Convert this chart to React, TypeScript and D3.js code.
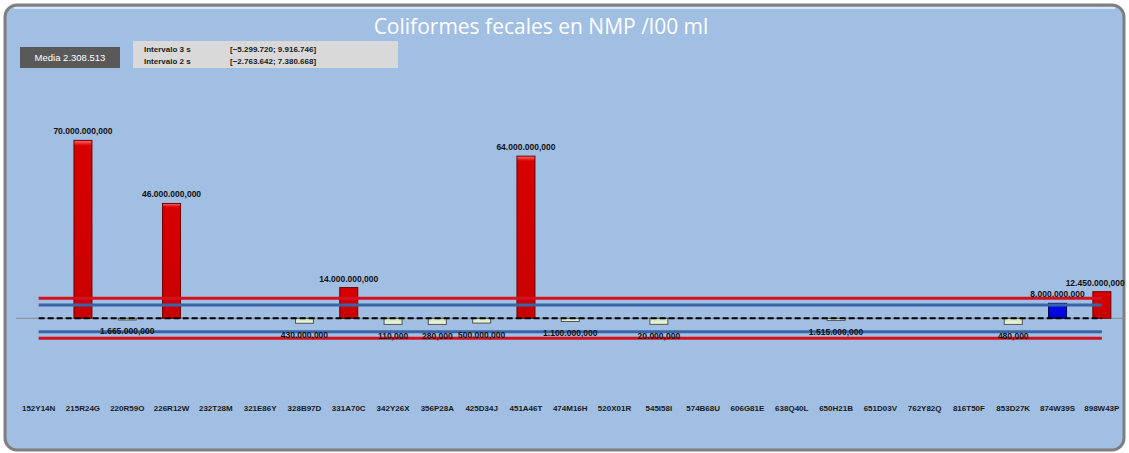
import React from "react";
import * as d3 from "d3";

const categories = [
  "152Y14N", "215R24G", "220R59O", "226R12W", "232T28M", "321E86Y", "328B97D",
  "331A70C", "342Y26X", "356P28A", "425D34J", "451A46T", "474M16H", "520X01R",
  "545I58I", "574B68U", "606G81E", "638Q40L", "650H21B", "651D03V", "762Y82Q",
  "816T50F", "853D27K", "874W39S", "898W43P",
];
const values: (number | null)[] = [
  null, 70000000, 1665000, 46000000, null, null, 430000,
  14000000, 110, 280, 500000, 64000000, 1100000, null,
  20000, null, null, null, 1515000, null, null,
  null, 480, 8000000, 12450000,
];
const mean = 2308513;
const interval3 = [-5299720, 9916746];
const interval2 = [-2763642, 7380668];
const title = "Coliformes fecales en NMP /l00 ml";

const W = 1129;
const H = 453;

const es = d3.formatLocale({ decimal: ",", thousands: ".", grouping: [3], currency: ["", "€"] });
const fmt3 = es.format(",.3f");
const fmt0 = es.format(",.0f");

export default function App() {
  const x = d3
    .scaleBand<string>()
    .domain(categories)
    .range([16.5, 1124])
    .paddingInner(0.594)
    .paddingOuter(0.297);
  const y = d3.scaleLinear().domain([0, 70000000]).range([324.37, 140.37]);
  const cx = (c: string) => (x(c) as number) + x.bandwidth() / 2;
  const x0 = cx(categories[0]);
  const x1 = cx(categories[categories.length - 1]);
  const yMean = y(mean);

  const colorOf = (v: number) => (v > interval3[1] ? "red" : v > interval2[1] ? "blue" : "green");

  return (
    <svg width={W} height={H} style={{ position: "absolute", left: 0, top: 0 }} fontFamily="Liberation Sans, Arial, sans-serif">
      <defs>
        <linearGradient id="gRed" x1="0" y1="0" x2="0" y2="1">
          <stop offset="0" stopColor="#ff6a6a" />
          <stop offset="0.03" stopColor="#d80000" />
          <stop offset="1" stopColor="#c80000" />
        </linearGradient>
        <linearGradient id="gBlue" x1="0" y1="0" x2="0" y2="1">
          <stop offset="0" stopColor="#6a6aff" />
          <stop offset="0.1" stopColor="#0010f0" />
          <stop offset="1" stopColor="#0000d0" />
        </linearGradient>
        <linearGradient id="gGreen" x1="0" y1="0" x2="0" y2="1">
          <stop offset="0" stopColor="#c8e2b0" />
          <stop offset="1" stopColor="#f4fbec" />
        </linearGradient>
      </defs>
      <rect x={0} y={0} width={W} height={H} fill="#ffffff" />
      <rect x={5} y={5} width={1119} height={445} rx={12} fill="#a1bee3" stroke="#7f7f7f" strokeWidth={3} />
      <line x1={14} x2={1115} y1={8} y2={8} stroke="#d8e7f8" strokeWidth={2} />

      <text x={541} y={34} textAnchor="middle" fill="#ffffff" fontSize={21} fontFamily="Open Sans, sans-serif" fontWeight={500}>
        {title}
      </text>

      <rect x={20} y={47} width={100} height={21} fill="#595959" />
      <text x={70} y={61} textAnchor="middle" fill="#ffffff" fontSize={9.5}>
        {`Media ${fmt0(mean)}`}
      </text>
      <rect x={133} y={41} width={265} height={27} fill="#d9d9d9" />
      <text x={144} y={51.5} fontSize={8} fontWeight="bold" fill="#1a1a1a">Intervalo 3 s</text>
      <text x={230} y={51.5} fontSize={8} fontWeight="bold" fill="#1a1a1a">{`[${fmt0(interval3[0])}; ${fmt0(interval3[1])}]`}</text>
      <text x={144} y={63.5} fontSize={8} fontWeight="bold" fill="#1a1a1a">Intervalo 2 s</text>
      <text x={230} y={63.5} fontSize={8} fontWeight="bold" fill="#1a1a1a">{`[${fmt0(interval2[0])}; ${fmt0(interval2[1])}]`}</text>

      <line x1={16} x2={1125} y1={yMean} y2={yMean} stroke="#8a8a8a" strokeWidth={1} />

      {categories.map((c, i) => {
        const v = values[i];
        if (v == null) return null;
        const col = colorOf(v);
        const top = Math.min(y(v), yMean);
        const h = Math.abs(y(v) - yMean);
        const fill = col === "red" ? "url(#gRed)" : col === "blue" ? "url(#gBlue)" : "url(#gGreen)";
        const stroke = col === "red" ? "#6e0000" : col === "blue" ? "#00004a" : "#505050";
        return (
          <rect key={c} x={x(c)} y={top} width={x.bandwidth()} height={Math.max(h, 1)} fill={fill} stroke={stroke} strokeWidth={1} />
        );
      })}

      {[interval3[1], interval3[0]].map((v, i) => (
        <line key={"r" + i} x1={x0} x2={x1} y1={y(v)} y2={y(v)} stroke="#d7101e" strokeWidth={3} />
      ))}
      {[interval2[1], interval2[0]].map((v, i) => (
        <line key={"b" + i} x1={x0} x2={x1} y1={y(v)} y2={y(v)} stroke="#3a64a8" strokeWidth={3} />
      ))}
      <line x1={x0} x2={x1} y1={yMean} y2={yMean} stroke="#000000" strokeWidth={2} strokeDasharray="6 3" />

      {categories.map((c, i) => {
        const v = values[i];
        if (v == null) return null;
        const above = v > mean;
        const ty = above ? y(v) - 6 : y(v) + 14.5;
        const label = fmt3(v);
        const w = label.length * 4.4;
        const lx = Math.min(cx(c), W - 3 - w / 2);
        return (
          <text key={"l" + c} x={lx} y={ty} textAnchor="middle" fontSize={8.5} fontWeight="bold" fill="#111">
            {label}
          </text>
        );
      })}

      {categories.map((c) => (
        <text key={"c" + c} x={cx(c)} y={410.5} textAnchor="middle" fontSize={8} fontWeight="bold" fill="#1a1a1a">
          {c}
        </text>
      ))}
    </svg>
  );
}
